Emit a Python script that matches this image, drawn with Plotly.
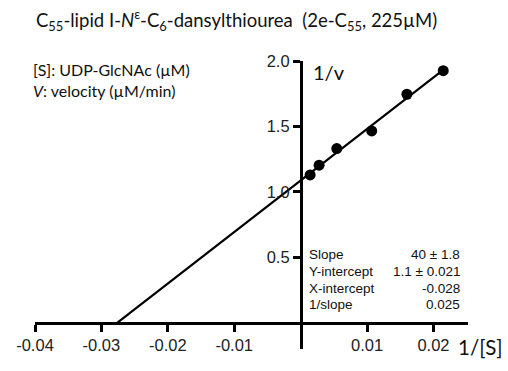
import numpy as np
import plotly.graph_objects as go

# Data
inv_s = [0.00143, 0.00278, 0.00544, 0.0107, 0.0160, 0.02147]   # 1/[S]
inv_v = [1.130, 1.204, 1.331, 1.466, 1.746, 1.926]             # 1/v
x_ticks = [-0.04, -0.03, -0.02, -0.01, 0.01, 0.02]
x_ticklabels = ["-0.04", "-0.03", "-0.02", "-0.01", "0.01", "0.02"]
y_ticks = [0.5, 1.0, 1.5, 2.0]
y_ticklabels = ["0.5", "1.0", "1.5", "2.0"]
stat_names = ["Slope", "Y-intercept", "X-intercept", "1/slope"]
stat_values = ["40 \u00b1 1.8", "1.1 \u00b1 0.021", "-0.028", "0.025"]

slope, intercept = np.polyfit(inv_s, inv_v, 1)
x_int = -intercept / slope
line_x = [x_int, max(inv_s)]
line_y = [slope * xv + intercept for xv in line_x]

W, H = 508, 371
ml, mr, mt, mb = 34.5, 39.9, 61, 21.8
pw, ph = W - ml - mr, H - mt - mb
xr = [-0.04, 0.0252]
yr = [-0.2, 2.0]

def px(x):
    return (x - ml) / pw

def py(y):
    return (H - mb - y) / ph

fig = go.Figure()
fig.add_trace(go.Scatter(x=line_x, y=line_y, mode="lines",
                         line=dict(color="black", width=2.2), hoverinfo="skip"))
fig.add_trace(go.Scatter(x=inv_s, y=inv_v, mode="markers",
                         marker=dict(color="black", size=11), cliponaxis=False))

tickfont = dict(family="Liberation Sans, Arial", size=16.5, color="#222")
fig.update_layout(
    width=W, height=H, showlegend=False,
    margin=dict(l=ml, r=mr, t=mt, b=mb, pad=0),
    plot_bgcolor="white", paper_bgcolor="white",
    xaxis=dict(range=xr, anchor="free", position=(0 - yr[0]) / (yr[1] - yr[0]),
               showline=True, linecolor="black", linewidth=2.5,
               showgrid=False, zeroline=False,
               ticks="outside", ticklen=7, tickwidth=2.5, tickcolor="black",
               tickvals=x_ticks, ticktext=x_ticklabels, tickfont=tickfont),
    yaxis=dict(range=yr, anchor="free", position=(0 - xr[0]) / (xr[1] - xr[0]),
               showline=True, linecolor="black", linewidth=2.5,
               showgrid=False, zeroline=False,
               ticks="outside", ticklen=7, tickwidth=2.5, tickcolor="black",
               tickvals=y_ticks, ticktext=y_ticklabels, tickfont=tickfont),
)

ann = []
ann.append(dict(x=px(33), y=py(20), xref="paper", yref="paper", xanchor="left", yanchor="middle",
                showarrow=False,
                text="C<sub>55</sub>-lipid I-<i>N</i><sup>\u03b5</sup>-C<sub>6</sub>-dansylthiourea  (2e-C<sub>55</sub>, 225\u00b5M)",
                font=dict(family="Lato, Carlito, sans-serif", size=18.5, color="#111")))
ann.append(dict(x=px(30), y=py(70), xref="paper", yref="paper", xanchor="left", yanchor="middle",
                showarrow=False, text="[S]: UDP-GlcNAc (\u00b5M)",
                font=dict(family="Lato, sans-serif", size=16, color="#111")))
ann.append(dict(x=px(30), y=py(91), xref="paper", yref="paper", xanchor="left", yanchor="middle",
                showarrow=False, text="<i>V</i>: velocity (\u00b5M/min)",
                font=dict(family="Lato, sans-serif", size=16, color="#111")))
ann.append(dict(x=px(311), y=py(72), xref="paper", yref="paper", xanchor="left", yanchor="middle",
                showarrow=False, text="1/v",
                font=dict(family="Lato, sans-serif", size=20, color="#111")))
ann.append(dict(x=px(456), y=py(347), xref="paper", yref="paper", xanchor="left", yanchor="middle",
                showarrow=False, text="1/[S]",
                font=dict(family="Lato, sans-serif", size=20.5, color="#111")))
row_y = [255, 272, 288.5, 305]
for name, val, yy in zip(stat_names, stat_values, row_y):
    ann.append(dict(x=px(307), y=py(yy), xref="paper", yref="paper", xanchor="left", yanchor="middle",
                    showarrow=False, text=name,
                    font=dict(family="Liberation Sans, Arial", size=13.5, color="#111")))
    ann.append(dict(x=px(462), y=py(yy), xref="paper", yref="paper", xanchor="right", yanchor="middle",
                    showarrow=False, text=val,
                    font=dict(family="Liberation Sans, Arial", size=13.5, color="#111")))
fig.update_layout(annotations=ann)

fig.write_html("out.html")
